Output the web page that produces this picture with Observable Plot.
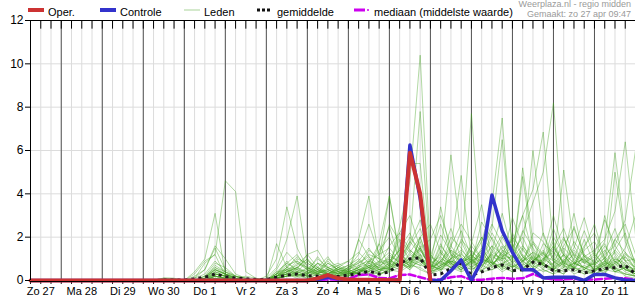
<!DOCTYPE html>
<html>
<head>
<meta charset="utf-8">
<script src="https://cdn.jsdelivr.net/npm/d3@7"></script>
<script src="https://cdn.jsdelivr.net/npm/@observablehq/plot@0.6"></script>
<style>
  body { margin: 0; background: #fff; }
  #wrap { position: relative; width: 635px; height: 300px; font-family: 'Liberation Sans', Arial, sans-serif; }
  #wrap svg.chart { position: absolute; left: 0; top: 0; }
  .lg { position: absolute; top: 6px; font-size: 11px; line-height: 13px; color: #000; white-space: nowrap; }
  .lg svg { position: absolute; top: 1px; }
  .hdr { position: absolute; right: 4px; font-size: 9px; color: #9a9a9a; white-space: nowrap; line-height: 10px; }
</style>
</head>
<body>
<div id="wrap"></div>
<script>
// ---- data (6-hourly steps, t = 0 is Zo 27 06:00) ----
const dayLabels = ["Zo 27","Ma 28","Di 29","Wo 30","Do 1","Vr 2","Za 3","Zo 4","Ma 5","Di 6","Wo 7","Do 8","Vr 9","Za 10","Zo 11"];
const yTicks = [0, 2, 4, 6, 8, 10, 12];

// Oper. (t = 0..39)
const oper = [0,0,0, 0,0,0,0, 0,0,0,0, 0,0,0,0, 0,0,0,0, 0,0,0,0, 0,0,0,0, 0,
  0.1,0.25,0.1, 0.05,0.03,0.03,0.02, 0.02,0,5.9,4.0, 0];
// Controle (t = 0..59)
const controle = [0,0,0, 0,0,0,0, 0,0,0,0, 0,0,0,0, 0,0,0,0, 0,0,0,0, 0,0,0,0, 0,
  0.05,0.15,0.08, 0.03,0.02,0.02,0.02, 0,0.05,6.25,3.8, 0,0,0.45,0.95, 0,0.9,3.95,2.3,
  1.3,0.5,0.5,0.12, 0.15,0.15,0.15,0, 0.28,0.28,0.12,0.02, 0];
// gemiddelde (t = 0..59)
const gemiddelde = [0,0,0, 0,0,0,0, 0,0,0,0, 0,0,0.02,0.02,
  0.02,0.08,0.15,0.3, 0.18,0.12,0.08,0.05, 0.05,0.15,0.25,0.3, 0.22,0.2,0.2,0.18,
  0.25,0.3,0.43,0.3, 0.4,0.8,1.0,1.05, 0.25,0.3,0.55,0.8, 0.25,0.4,0.6,0.72,
  0.45,0.5,0.85,0.75, 0.45,0.45,0.5,0.35, 0.45,0.55,0.6,0.7, 0.3];
// mediaan (t = 0..59)
const mediaan = [0,0,0, 0,0,0,0, 0,0,0,0, 0,0,0,0, 0,0,0,0, 0,0,0,0, 0,0,0,0, 0,
  0.02,0.05,0.03, 0.08,0.25,0.28,0.12, 0.1,0.25,0.28,0.15, 0.03,0.05,0.15,0.2,
  0.03,0.03,0.08,0.12, 0.08,0.1,0.3,0.12, 0.05,0.05,0.08,0.03, 0.05,0.08,0.12,0.1, 0.03];

// Leden (members), t = 12..59 (all 0 before)
const ledenStart = 12;
const leden = [
  [0,0.1,0.05, 0,0.3,0.9,1.2, 4.6,4.1,0.4,0.1, 0,0.2,0.4,0.3, 0.1,0.3,0.5,0.2, 0.2,0.6,1.0,0.5, 0.4,1.0,1.8,1.2, 0.3,0.6,1.4,0.8, 1.1,2.0,0.9,0.5, 0.8,1.5,0.7,0.4, 0.6,1.2,0.6,0.3, 0.4,0.9,0.5,0.3, 0.2],
  [0,0,0, 0,0.4,1.0,3.1, 0.3,0.1,0,0, 0,0.3,0.9,0.4, 0.2,0.1,0.3,0.6, 0.9,0.5,0.2,0.4, 0.6,2.2,3.0,1.5, 0.5,1.6,1.0,2.3, 1.1,0.4,1.3,2.1, 1.5,0.8,0.4,1.0, 0.7,1.9,1.2,0.5, 0.8,0.3,1.4,0.9, 0.4],
  [0,0.12,0.1, 0,0.1,0.5,1.6, 1.0,0.3,0.1,0, 0,0.3,0.5,0.2, 0.4,0.8,0.3,0.1, 0.2,1.9,1.1,0.5, 0.8,1.4,0.6,2.0, 0.7,3.4,1.2,0.4, 1.7,3.5,0.9,0.5, 2.2,1.1,0.6,1.7, 1.3,0.6,2.5,1.1, 0.9,0.5,1.9,1.3, 0.8],
  [0,0,0, 0,0.2,0.5,1.5, 0.5,0.2,0,0.1, 0,0.1,0.2,0.6, 1.0,0.3,0.2,0.5, 0.4,0.3,0.8,1.7, 3.9,1.2,0.6,0.9, 0.4,1.1,2.4,1.0, 0.6,0.9,2.0,1.1, 1.4,3.0,1.2,0.5, 0.3,0.9,1.5,2.9, 1.2,0.7,0.5,1.1, 0.6],
  [0,0,0, 0,0.1,0.8,1.2, 0.2,0,0,0, 0,0.2,0.3,0.1, 0.3,0.6,1.1,0.4, 0.2,0.5,0.3,0.2, 0.6,2.5,4.6,10.4, 1.2,0.5,0.9,0.6, 0.3,1.2,0.8,0.4, 0.7,0.4,0.9,1.3, 0.5,0.3,0.7,1.5, 2.6,1.0,0.4,0.6, 0.3],
  [0,0,0, 0,0,0.2,0.5, 0.3,0.1,0,0, 0.2,1.0,3.4,1.5, 0.6,0.3,0.2,0.1, 0.1,0.4,0.9,0.6, 1.1,0.9,1.8,7.8, 0.8,0.4,1.2,0.9, 0.5,0.8,1.6,0.7, 0.4,1.1,0.6,0.9, 1.8,0.7,0.3,0.5, 0.9,1.4,0.6,0.2, 0.1],
  [0,0,0, 0,0.1,0.3,0.9, 0.4,0.2,0.1,0, 0.1,0.6,1.9,3.9, 0.8,0.5,0.2,0.3, 0.5,0.3,0.6,0.4, 0.9,1.4,5.4,5.4, 0.6,1.7,0.8,0.5, 1.0,0.4,0.9,1.6, 0.8,0.5,1.1,0.7, 0.4,0.6,1.3,0.8, 1.1,0.5,0.8,0.4, 0.2],
  [0,0,0, 0,0,0.1,0.6, 0.3,0,0,0, 0,1.7,0.6,0.3, 0.2,0.1,0.4,0.7, 0.4,0.2,0.5,0.3, 0.5,0.8,0.6,1.4, 0.7,1.2,5.8,2.0, 0.9,0.5,0.7,1.2, 0.6,1.4,0.9,0.5, 1.2,2.0,0.8,0.6, 0.3,0.5,1.0,0.7, 0.4],
  [0,0,0, 0,0,0,0.4, 0.2,0.1,0,0, 0,0.3,0.7,0.9, 0.5,0.2,0.1,0.2, 0.4,1.9,3.9,1.0, 0.5,0.7,1.0,0.8, 0.4,0.9,1.5,4.85, 1.0,0.6,1.4,0.9, 1.7,0.9,0.5,0.8, 0.5,0.3,1.0,0.6, 0.8,1.6,0.9,0.5, 0.3],
  [0,0,0, 0,0,0.2,0.8, 0.6,0.2,0,0, 0,0.2,0.5,0.7, 1.2,0.6,0.3,0.2, 0.5,0.8,1.2,1.0, 3.9,1.0,0.7,2.0, 0.6,0.9,0.6,1.2, 7.7,1.5,0.8,0.6, 0.4,0.9,1.3,0.6, 0.8,1.2,0.5,0.3, 0.6,0.3,0.9,0.5, 0.4],
  [0,0,0, 0,0,0.1,0.3, 0.2,0,0,0, 0,0.1,0.4,0.6, 0.4,1.1,0.5,0.3, 0.6,1.2,2.6,1.2, 2.5,0.9,0.5,1.1, 0.4,0.6,0.9,0.7, 1.0,1.8,3.5,7.5, 1.2,0.6,0.9,1.4, 0.6,0.4,0.8,1.0, 0.5,0.9,0.4,0.6, 0.2],
  [0,0,0, 0,0,0,0.2, 0.1,0,0,0, 0,0.4,0.8,0.5, 1.2,1.4,0.6,0.3, 0.2,0.7,0.4,1.7, 0.6,1.2,0.8,0.5, 0.3,0.7,1.0,1.8, 0.8,1.3,2.4,6.5, 1.5,0.9,0.6,0.8, 1.6,0.7,0.5,1.2, 0.4,0.8,1.3,0.7, 0.5],
  [0,0,0, 0,0,0.1,0.4, 0.3,0.1,0.2,0.1, 0,0.2,0.3,0.8, 0.5,0.3,1.0,0.6, 0.3,0.5,0.7,0.4, 0.8,0.6,1.2,0.9, 0.5,1.4,0.8,0.6, 0.9,1.1,0.7,1.3, 0.9,5.2,1.8,0.7, 0.5,1.0,0.6,1.9, 0.7,0.4,0.8,1.1, 0.5],
  [0,0,0, 0,0,0,0.3, 0.2,0,0,0, 0,0.1,0.2,0.4, 0.2,0.5,0.3,0.2, 0.4,0.3,0.9,0.7, 0.5,1.1,2.0,1.4, 0.7,0.5,1.0,1.2, 0.8,0.6,1.3,1.0, 2.0,1.4,6.0,2.1, 0.9,0.5,0.8,0.6, 0.4,1.1,0.6,0.3, 0.2],
  [0,0,0, 0,0,0.1,0.5, 0.3,0.2,0.1,0, 0,0.2,0.6,1.1, 0.7,0.4,0.3,0.2, 0.3,0.5,0.6,0.9, 1.3,0.8,0.6,1.2, 0.5,0.9,0.6,0.8, 1.2,0.7,1.0,1.5, 1.8,3.0,4.2,6.85, 1.5,0.8,0.6,0.9, 0.5,0.7,1.1,0.6, 0.4],
  [0,0,0, 0,0,0,0.2, 0.1,0,0,0, 0,0.3,0.4,0.6, 1.0,0.5,0.3,0.4, 0.2,0.4,0.6,0.5, 0.7,0.9,1.4,1.0, 0.4,0.6,0.9,0.6, 0.8,1.0,1.6,1.2, 1.0,2.2,3.6,5.0, 8.2,2.0,0.9,0.5, 0.3,0.6,0.9,0.5, 0.3],
  [0,0,0, 0,0,0,0.1, 0.1,0,0,0, 0,0.1,0.3,0.2, 0.3,0.8,0.5,0.3, 0.4,0.6,0.3,0.5, 0.6,0.9,0.7,1.5, 0.8,1.1,0.6,0.5, 0.9,0.7,1.2,1.0, 1.1,1.6,0.9,1.3, 0.7,5.1,1.6,0.8, 0.6,0.9,0.5,0.7, 0.5],
  [0,0,0, 0,0,0.2,0.6, 0.4,0.1,0,0, 0,0.4,0.5,0.3, 0.6,0.4,0.8,0.5, 0.3,0.4,0.7,0.6, 0.5,1.2,0.9,0.7, 0.6,0.8,1.4,1.1, 0.7,1.5,0.8,1.0, 0.6,0.9,1.3,1.0, 1.6,0.8,0.6,0.5, 1.0,1.8,5.9,2.0, 0.8],
  [0,0,0, 0,0,0,0.2, 0.1,0,0,0, 0,0.2,0.3,0.4, 0.5,0.3,0.6,0.8, 0.5,0.3,0.4,0.7, 0.9,0.7,1.0,1.5, 0.5,0.7,0.9,0.8, 1.1,0.9,0.6,1.4, 0.8,1.2,0.7,1.0, 1.3,0.9,0.6,1.1, 1.4,1.9,3.2,6.4, 2.1],
  [0,0,0, 0,0,0,0.1, 0,0,0,0, 0,0.1,0.2,0.3, 0.2,0.4,0.3,0.5, 0.7,0.4,0.6,0.3, 0.4,0.6,1.3,0.9, 0.7,0.5,0.8,1.3, 0.6,1.0,0.8,0.7, 1.2,0.7,1.0,0.8, 0.5,0.9,1.4,0.9, 0.7,1.2,1.6,2.8, 6.0],
  [0,0,0, 0,0,0.1,0.4, 0.2,0,0,0, 0,0.2,0.4,0.6, 0.3,0.5,0.9,0.4, 0.6,0.8,1.1,0.7, 1.6,2.2,1.4,1.0, 0.6,1.3,0.7,0.9, 1.4,0.8,1.2,0.6, 0.9,4.8,1.4,0.7, 0.5,0.8,1.2,0.9, 1.3,0.6,5.0,1.8, 0.6],
  [0,0,0, 0,0,0,0.3, 0.2,0.1,0,0, 0,0.3,0.6,0.5, 0.4,0.2,0.3,0.6, 0.5,0.9,0.6,0.4, 0.7,0.5,0.8,1.2, 0.9,0.6,1.0,0.7, 0.5,0.8,1.1,0.9, 0.6,1.0,1.8,1.2, 3.0,1.3,0.8,0.6, 0.4,0.7,1.0,0.8, 0.4],
  [0,0,0, 0,0,0,0.2, 0.1,0,0,0, 0,0.1,0.3,0.5, 0.3,0.6,0.4,0.2, 0.3,0.4,0.5,0.8, 1.0,0.6,0.9,0.7, 1.1,0.8,0.6,0.9, 1.2,0.7,0.5,0.8, 0.6,0.9,1.1,0.8, 0.5,1.2,3.1,1.0, 0.6,3.0,1.2,0.5, 0.3],
  [0,0.1,0.1, 0,0,0.1,0.5, 0.3,0.1,0,0, 0,0.5,1.3,0.8, 0.6,0.4,0.5,0.3, 0.4,0.6,0.8,0.5, 0.6,0.8,0.5,1.0, 0.4,0.7,1.0,1.4, 0.9,1.2,0.8,1.1, 0.7,0.5,0.9,1.2, 0.9,0.6,0.8,1.0, 0.5,0.8,0.7,1.2, 0.9],
  [0,0,0, 0,0,0.1,0.3, 0.2,0,0,0, 0,0.2,0.6,1.0, 0.8,0.5,0.4,0.3, 0.6,0.9,1.5,0.8, 2.6,1.8,0.9,1.6, 0.5,0.9,1.6,2.6, 1.8,1.0,0.7,1.3, 1.9,1.1,0.8,2.2, 1.0,0.7,1.8,1.1, 0.7,1.3,2.4,0.9, 0.6],
  [0,0,0, 0,0,0,0.2, 0.1,0,0,0, 0,0.1,0.2,0.4, 0.3,0.8,0.6,0.4, 0.3,0.5,0.4,0.9, 0.7,1.5,2.2,1.0, 0.8,2.1,1.3,0.9, 0.6,1.4,2.6,1.7, 1.0,2.3,1.5,0.8, 2.0,1.2,0.8,1.6, 2.2,1.0,0.6,1.3, 0.5],
  [0,0,0, 0,0,0.1,0.7, 0.4,0.2,0.1,0, 0,0.3,0.8,1.2, 0.5,1.0,0.6,0.4, 0.5,0.7,0.9,1.2, 1.5,0.9,1.7,2.8, 1.2,0.7,2.0,1.5, 0.8,2.7,1.9,1.0, 2.9,1.6,1.0,0.7, 1.5,2.4,1.1,0.8, 1.2,2.8,1.6,0.9, 1.0],
  [0,0,0, 0,0,0,0.3, 0.2,0.1,0,0, 0,0.2,0.4,0.9, 0.6,0.3,0.8,0.5, 0.4,0.6,1.4,1.0, 0.8,1.9,1.3,2.0, 2.6,1.3,0.7,1.9, 1.3,1.0,2.2,1.4, 1.1,0.7,2.2,1.8, 0.9,1.6,2.4,1.2, 0.8,1.0,1.9,2.6, 1.2],
  [0,0,0, 0,0,0.1,0.5, 0.3,0.1,0,0, 0,0.2,0.5,0.4, 0.9,0.6,0.3,0.5, 0.7,1.0,0.6,1.4, 2.0,1.0,0.8,1.5, 1.9,3.0,1.6,0.9, 1.0,2.0,1.4,3.1, 1.3,2.0,1.0,0.9, 2.4,1.1,0.7,1.4, 1.8,0.9,1.4,2.2, 0.7],
  [0,0,0, 0,0,0,0.1, 0.1,0,0,0, 0,0.1,0.3,0.2, 0.4,0.3,0.5,0.7, 0.9,1.3,0.8,0.6, 1.2,0.8,1.6,2.4, 1.1,2.6,1.2,0.8, 1.6,1.0,0.8,2.0, 1.2,0.9,1.7,1.1, 0.6,1.5,1.0,2.3, 1.1,1.7,0.8,1.5, 3.0],
  [0,0,0, 0,0,0,0.2, 0.1,0,0,0, 0,0.1,0.2,0.3, 0.2,0.4,0.3,0.6, 0.4,0.3,0.7,0.5, 1.0,0.6,0.9,1.8, 0.6,1.0,0.8,0.5, 0.9,1.4,0.6,0.8, 1.0,0.5,1.2,0.7, 0.6,0.9,0.4,0.7, 0.5,0.8,0.4,0.6, 0.3],
  [0,0,0, 0,0,0,0.1, 0,0,0,0, 0,0.1,0.2,0.2, 0.1,0.3,0.2,0.4, 0.3,0.5,0.4,0.3, 0.5,0.4,0.7,0.6, 0.3,0.5,0.6,0.4, 0.6,0.4,0.5,0.7, 0.5,0.6,0.4,0.5, 0.3,0.5,0.6,0.4, 0.3,0.5,0.4,0.3, 0.2]
];

// ---- build ----
const start = new Date(Date.UTC(2025, 3, 27, 6));
const end = new Date(Date.UTC(2025, 4, 12, 0));
const time = t => new Date(+start + t * 6 * 3600e3);

const series = arr => arr.map((v, t) => ({t: time(t), v}));
const operData = series(oper);
const controleData = series(controle);
const meanData = series(gemiddelde);
const medianData = series(mediaan);
const ledenData = leden.flatMap((vals, m) => vals.map((v, i) => ({m, t: time(ledenStart + i), v})));

const sixHours = d3.utcHour.every(6).range(start, new Date(+end + 1));
const days = d3.utcDay.range(start, new Date(+end + 1));
const noons = dayLabels.map((_, k) => new Date(Date.UTC(2025, 3, 27 + k, 12)));
const labelByTime = new Map(noons.map((d, i) => [+d, dayLabels[i]]));
const yGrid = yTicks.filter(v => v > 0 && v < 12);

const chart = Plot.plot({
  width: 635, height: 300,
  marginLeft: 30, marginRight: 0, marginTop: 20, marginBottom: 20,
  style: {fontFamily: "'Liberation Sans', Arial, sans-serif", fontSize: "11px", color: "#000", background: "transparent", overflow: "visible"},
  x: {type: "utc", domain: [start, end]},
  y: {domain: [0, 12]},
  marks: [
    Plot.ruleX(sixHours, {stroke: "#dcdcdc", strokeWidth: 1}),
    Plot.ruleY(yGrid, {stroke: "#dcdcdc", strokeWidth: 1}),
    Plot.ruleX(days, {stroke: "#555", strokeWidth: 1}),
    Plot.ruleX(sixHours, {y1: 12, y2: 11.6, stroke: "#000"}),
    Plot.ruleX(sixHours, {y1: 0, y2: -0.18, stroke: "#000"}),
    Plot.line(ledenData, {x: "t", y: "v", z: "m", stroke: "#3f9f1c", strokeOpacity: 0.4, strokeWidth: 1}),
    Plot.line(medianData, {x: "t", y: "v", stroke: "#cc00ee", strokeWidth: 2.5, strokeDasharray: "7,3"}),
    Plot.line(meanData, {x: "t", y: "v", stroke: "#1a1a1a", strokeWidth: 3, strokeDasharray: "3,4", strokeLinecap: "butt"}),
    Plot.line(controleData, {x: "t", y: "v", stroke: "#3333cc", strokeWidth: 3.5}),
    Plot.line(operData, {x: "t", y: "v", stroke: "#cc3333", strokeWidth: 4}),
    Plot.ruleY([0], {stroke: "#000", dy: 1}),
    Plot.ruleY([12], {stroke: "#000"}),
    Plot.ruleX([start], {stroke: "#000"}),
    Plot.axisY(yTicks, {tickSize: 5, tickPadding: 2, fontSize: 12, label: null}),
    Plot.axisX(noons, {tickSize: 0, tickPadding: 7, tickFormat: d => labelByTime.get(+d), fontSize: 11, label: null})
  ]
});
chart.classList.add("chart");
const wrap = document.getElementById("wrap");
wrap.appendChild(chart);

// ---- legend & header ----
const legendItems = [
  {label: "Oper.", left: 28, svg: '<line x1="0" y1="3" x2="16" y2="3" stroke="#cc3333" stroke-width="4"/>'},
  {label: "Controle", left: 100, svg: '<line x1="0" y1="3" x2="16" y2="3" stroke="#3333cc" stroke-width="4"/>'},
  {label: "Leden", left: 184, svg: '<line x1="0" y1="3" x2="16" y2="3" stroke="#b8dbab" stroke-width="1.2"/>'},
  {label: "gemiddelde", left: 257, svg: '<line x1="0" y1="3" x2="14" y2="3" stroke="#111" stroke-width="3" stroke-dasharray="3,2"/>'},
  {label: "mediaan (middelste waarde)", left: 354, svg: '<line x1="0" y1="3" x2="11" y2="3" stroke="#cc00ee" stroke-width="3"/><line x1="13" y1="3" x2="15" y2="3" stroke="#cc00ee" stroke-width="1.5"/>'}
];
for (const it of legendItems) {
  const el = document.createElement("div");
  el.className = "lg";
  el.style.left = it.left + "px";
  el.innerHTML = `<svg width="18" height="6" style="left:0">${it.svg}</svg><span style="margin-left:20px">${it.label}</span>`;
  wrap.appendChild(el);
}
const h1 = document.createElement("div");
h1.className = "hdr"; h1.style.top = "-1px"; h1.textContent = "Weerplaza.nl - regio midden";
const h2 = document.createElement("div");
h2.className = "hdr"; h2.style.top = "9px"; h2.textContent = "Gemaakt: zo 27 apr 09:47";
wrap.appendChild(h1); wrap.appendChild(h2);
</script>
</body>
</html>
